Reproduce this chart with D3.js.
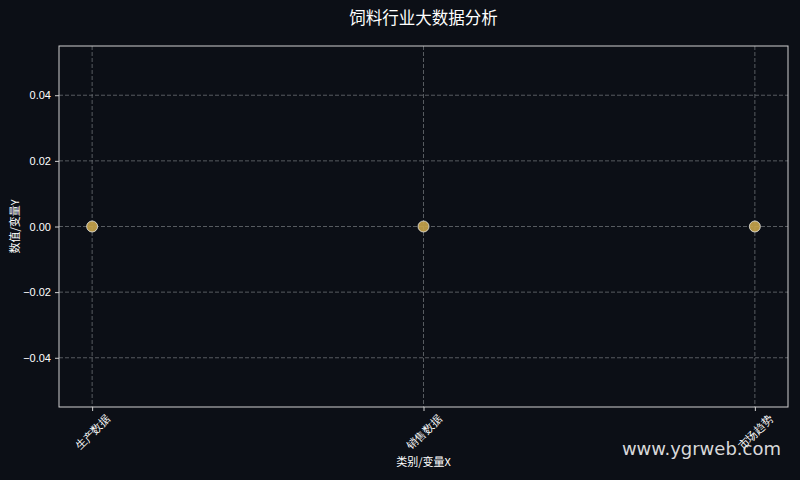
<!DOCTYPE html>
<html>
<head>
<meta charset="utf-8">
<script src="https://cdn.jsdelivr.net/npm/d3@7"></script>
<style>
  html, body { margin: 0; padding: 0; background: #0c0f16; }
  svg { display: block; font-family: "Noto Sans CJK SC", "DejaVu Sans", sans-serif; }
</style>
</head>
<body>
<svg id="chart"></svg>
<script>
const categories = ["生产数据", "销售数据", "市场趋势"];
const values = [0, 0, 0];
const yTicks = [-0.04, -0.02, 0.00, 0.02, 0.04];

const width = 800, height = 480;
const margin = { top: 46, right: 12, bottom: 73, left: 59 };
const innerW = width - margin.left - margin.right;
const innerH = height - margin.top - margin.bottom;

const svg = d3.select("#chart")
    .attr("width", width)
    .attr("height", height);

svg.append("rect")
    .attr("width", width)
    .attr("height", height)
    .attr("fill", "#0c0f16");

const g = svg.append("g")
    .attr("transform", `translate(${margin.left},${margin.top})`);

// categorical x, padded like matplotlib does for a tiny range
const x = d3.scaleLinear()
    .domain([-0.1, categories.length - 1 + 0.1])
    .range([0, innerW]);

const y = d3.scaleLinear()
    .domain([-0.055, 0.055])
    .range([innerH, 0]);

// grid
g.append("g")
    .selectAll("line")
    .data(yTicks)
    .join("line")
    .attr("x1", 0)
    .attr("x2", innerW)
    .attr("y1", d => y(d))
    .attr("y2", d => y(d))
    .attr("stroke", "#6b6e74")
    .attr("stroke-width", 0.8)
    .attr("stroke-dasharray", "4,2");

g.append("g")
    .selectAll("line")
    .data(categories)
    .join("line")
    .attr("x1", (d, i) => x(i))
    .attr("x2", (d, i) => x(i))
    .attr("y1", 0)
    .attr("y2", innerH)
    .attr("stroke", "#6b6e74")
    .attr("stroke-width", 0.8)
    .attr("stroke-dasharray", "4,2");

// axes
const yAxis = g.append("g")
    .call(d3.axisLeft(y).tickValues(yTicks).tickFormat(d3.format(".2f")).tickSize(4).tickPadding(4));

const xAxis = g.append("g")
    .attr("transform", `translate(0,${innerH})`)
    .call(d3.axisBottom(x).tickValues(d3.range(categories.length)).tickFormat(i => categories[i]).tickSize(4).tickPadding(4));

[yAxis, xAxis].forEach(a => {
    a.select(".domain").remove();
    a.selectAll("line").attr("stroke", "#d0d0d0");
    a.selectAll("text").attr("fill", "#ffffff").style("font-size", "11px");
});

// rotated labels centred under each tick
xAxis.selectAll("text")
    .attr("text-anchor", "middle")
    .attr("x", 0)
    .attr("y", 0)
    .attr("dy", "0.35em")
    .attr("transform", "translate(0,25) rotate(-45)");

// frame
g.append("rect")
    .attr("width", innerW)
    .attr("height", innerH)
    .attr("fill", "none")
    .attr("stroke", "#d0d0d0")
    .attr("stroke-width", 1);

// points
g.append("g")
    .selectAll("circle")
    .data(values)
    .join("circle")
    .attr("cx", (d, i) => x(i))
    .attr("cy", d => y(d))
    .attr("r", 5.5)
    .attr("fill", "#c9a54b")
    .attr("fill-opacity", 0.9)
    .attr("stroke", "#e8e8e8")
    .attr("stroke-width", 0.8);

// labels
svg.append("text")
    .attr("x", margin.left + innerW / 2)
    .attr("y", 24)
    .attr("text-anchor", "middle")
    .attr("fill", "#ffffff")
    .style("font-size", "16.5px")
    .text("饲料行业大数据分析");

svg.append("text")
    .attr("x", margin.left + innerW / 2)
    .attr("y", 466)
    .attr("text-anchor", "middle")
    .attr("fill", "#ffffff")
    .style("font-size", "11px")
    .text("类别/变量X");

svg.append("text")
    .attr("transform", `translate(19,${margin.top + innerH / 2}) rotate(-90)`)
    .attr("text-anchor", "middle")
    .attr("fill", "#ffffff")
    .style("font-size", "11px")
    .text("数值/变量Y");

// watermark
svg.append("text")
    .attr("x", 781)
    .attr("y", 455)
    .attr("text-anchor", "end")
    .attr("fill", "#ffffff")
    .attr("fill-opacity", 0.85)
    .style("font-family", "DejaVu Sans, sans-serif")
    .style("font-size", "18px")
    .text("www.ygrweb.com");
</script>
</body>
</html>
